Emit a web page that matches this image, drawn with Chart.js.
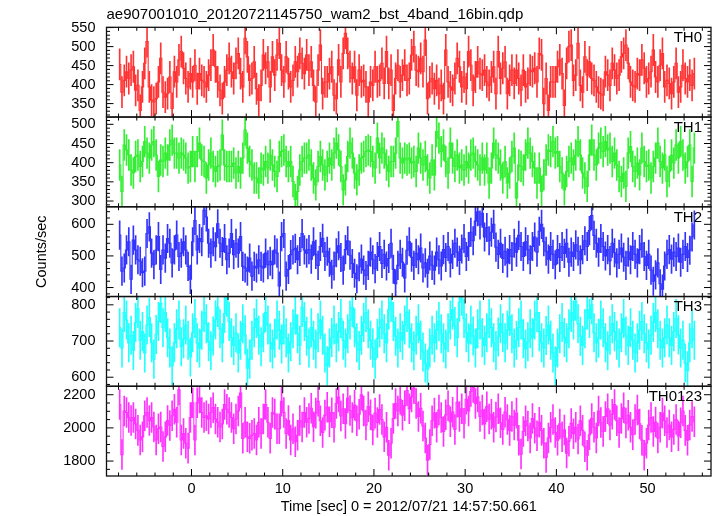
<!DOCTYPE html>
<html><head><meta charset="utf-8">
<script src="https://cdn.jsdelivr.net/npm/chart.js@4.4.1/dist/chart.umd.min.js"></script>
<style>html,body{margin:0;padding:0;background:#fff;}#wrap{width:717px;height:516px;}</style>
</head><body><div id="wrap"><canvas id="c" width="717" height="516"></canvas></div>
<script>
const chartTitle = "ae907001010_20120721145750_wam2_bst_4band_16bin.qdp";
const xTitle = "Time [sec] 0 = 2012/07/21 14:57:50.661";
const yTitle = "Counts/sec";
const bandNames = ["TH0", "TH1", "TH2", "TH3", "TH0123"];
const binStart = -7.875;   // centre of first 0.25 s bin
const binWidth = 0.25;

const th0 = [453,380,411,434,416,438,447,385,398,332,394,456,513,394,359,354,363,407,469,380,
367,376,420,337,434,407,465,487,443,416,394,429,407,451,389,429,411,407,394,425,
451,491,447,407,385,363,407,438,469,434,416,456,482,429,394,522,473,411,416,460,
389,359,398,478,443,460,394,473,425,478,509,438,407,473,429,394,411,460,434,482,
456,429,478,438,460,398,354,438,504,376,407,407,429,447,372,363,465,407,482,535,
482,447,416,447,372,438,407,411,394,354,407,398,447,407,411,456,403,487,403,438,
332,416,451,407,425,451,411,
416,478,500,438,434,469,434,517,363,407,416,389,411,376,398,363,491,407,394,385,
416,469,447,394,420,389,487,451,385,420,460,429,425,438,407,398,420,447,376,487,
416,443,460,376,411,438,403,438,416,385,438,394,403,438,434,443,407,482,478,350,
416,332,407,407,407,447,465,429,345,456,500,504,411,425,509,398,380,473,425,460,
416,411,394,380,376,372,434,425,398,456,438,416,425,473,482,504,456,407,398,394,
429,425,465,443,407,416,434,491,420,407,451,482,394,411,403,376,407,456,380,394,
451,416,407,425,398,429];

const th1 = [394,325,446,433,420,381,373,416,420,390,403,455,425,412,446,455,420,364,407,403,
425,407,446,459,425,425,412,425,420,412,386,390,429,390,429,451,407,403,360,394,
425,390,377,390,394,472,394,390,390,390,399,373,390,373,412,485,438,403,394,360,
360,347,386,381,403,386,420,394,377,364,416,429,433,403,390,403,351,304,325,381,
403,412,412,420,394,360,342,390,416,394,368,390,412,394,425,451,433,390,329,355,
416,451,425,373,355,381,412,416,429,433,429,403,386,464,412,438,425,394,377,403,
403,425,507,412,399,412,407,
412,399,403,377,438,412,394,416,381,360,407,368,481,464,429,446,403,373,451,412,
390,420,386,394,381,403,386,420,425,403,394,381,412,381,412,347,386,451,420,412,
394,360,403,347,373,416,438,308,394,390,381,420,451,425,403,386,347,386,325,368,
407,433,429,455,425,429,390,373,329,377,403,412,394,420,455,420,373,360,338,420,
459,420,394,438,451,429,455,433,438,403,425,394,364,351,373,338,425,442,390,377,
399,368,438,403,390,394,360,390,412,451,403,386,420,351,377,420,399,446,412,455,
420,386,403,446,351,438];

const th2 = [566,452,462,519,545,426,550,519,488,483,447,452,571,592,509,472,519,561,457,519,
493,555,540,478,519,566,498,509,545,519,467,426,545,612,519,555,545,644,623,540,
509,545,529,602,540,514,555,488,509,571,504,540,509,561,467,462,452,493,436,467,
462,488,467,462,509,472,483,472,519,509,405,561,571,436,457,504,519,524,488,514,
571,519,509,
520,490,545,505,470,530,556,498,515,480,442,468,510,532,495,455,520,548,502,476,
445,428,466,490,455,438,470,512,488,460,498,530,476,505,468,492,540,458,412,470,
505,480,430,518,545,496,470,508,488,525,462,478,445,500,470,455,512,488,468,520,
495,530,478,505,540,512,486,522,555,498,530,575,548,610,640,598,635,560,590,548,
575,600,528,505,540,492,515,478,520,498,540,512,565,530,498,545,520,488,530,560,
512,578,600,545,515,490,530,505,472,520,495,530,508,540,480,512,498,535,515,488,
520,548,530,580,628,565,540,512,555,530,500,520,485,540,510,478,505,525,496,470,
512,488,530,505,478,520,540,498,470,505,455,420,440,478,412,395,468,505,520,490,
512,498,525,480,505,530,495,518,560,598];

const th3 = [737,681,779,758,695,716,674,751,790,702,726,667,744,765,695,650,718,754,804,737,
779,709,681,632,695,734,758,684,706,744,702,656,723,762,695,681,730,779,748,698,
673,714,758,793,734,695,776,821,754,709,688,723,667,702,748,717,625,650,702,737,
762,716,684,723,779,744,695,678,708,758,730,692,744,709,667,698,734,772,720,688,
793,754,713,681,737,702,678,723,758,716,667,632,681,710,744,695,726,762,702,681,
720,758,793,737,695,674,715,751,779,734,702,681,650,707,737,758,720,695,786,807,
754,713,681,723,702,744,779,734,695,673,716,748,702,670,639,622,681,716,695,730,
754,720,695,678,723,758,786,740,709,807,824,762,723,695,744,714,681,734,758,709,
688,723,762,737,695,674,711,748,723,695,730,768,720,681,702,737,758,706,678,698,
734,709,758,779,726,695,681,715,744,702,667,632,681,720,751,710,695,734,779,758,
810,748,713,688,734,786,762,800,723,695,708,758,737,695,673,716,748,726,702,681,
723,762,714,688,737,702,667,695,730,754,720,695,678,716,751,779,734,702,681,709,
744,709,688,726,762,717,681,702,639,618,695,734,702];

const th0123 = [2141,1839,2102,2093,2063,2044,2063,2024,1985,1927,1946,2073,2093,2044,2063,2005,1927,1995,2005,1888,
1946,2044,2015,2073,2112,2034,2229,1927,1966,1907,1878,2063,2151,1927,2151,2180,2093,2063,2073,2054,
2093,2122,2054,2034,2005,2024,2141,2112,2093,2063,1995,2054,2102,2210,1937,2034,1946,1937,1956,1966,
1927,2034,1966,2054,2141,2034,1937,2093,2083,1995,1995,2161,2093,1966,2044,1927,1995,1917,1956,2044,
2005,2093,2034,
2056,2118,2007,2089,2160,2043,1972,2077,2124,2037,2092,2004,2147,2186,2072,2115,2026,2180,2105,2063,
2137,2043,2082,2199,2102,2017,2128,2079,1988,2089,2033,2111,2051,1946,2004,1835,1907,2056,2147,2102,
2173,2076,2134,2225,2115,2186,2238,2147,2069,2118,2011,1939,1806,1900,2043,2089,2004,2108,2063,1978,
2079,2134,2037,2095,1991,2154,2069,2115,2028,2173,2102,2219,2244,2147,2186,2069,2108,2024,2128,2053,
2082,2004,2066,2115,2031,1991,2095,2050,1985,2069,2017,2089,1926,1842,1978,2043,2011,1939,2056,1998,
1952,2034,1985,1907,1822,1939,2004,2050,1972,1926,2024,1946,1988,1848,1920,2027,1965,2004,1933,2043,
1985,1887,1835,1959,2056,2004,1939,2102,2032,1978,2069,2115,2017,2082,2141,2043,1972,2056,2121,2029,
2076,2004,1959,2050,2108,2024,1926,1835,1907,2017,2063,1978,2035,1939,2004,2089,2043,1972,2017,1946,
1991,2050,1952,2031,2102,1985,1926,2017,2069,2037];

const bandValues = [th0, th1, th2, th3, th0123];
const errHalf = [41, 40, 45, 53, 90];      // typical 1-sigma error

const yMin = [314.6, 285, 371.6, 575, 1710];
const yMax = [550.8, 519, 655.5, 823, 2251];
const yMajor = [50, 50, 100, 100, 200];
const yMinor = [10, 10, 20, 20, 50];
const xMin = -9.32, xMax = 56.95;
const xMajor = 10, xMinor = 2;

const lineColors = ['#ff3333', '#33ee33', '#3333ff', '#22ffff', '#ff33ff'];

const FONT = '"Liberation Sans", Arial, Helvetica, sans-serif';
const PLOT_LEFT = 106.5;

const datasets = [];
bandValues.forEach((vals, i) => {
  datasets.push({
    type: 'bar', label: bandNames[i] + ' error', yAxisID: 'y' + i, xAxisID: 'x',
    data: vals.map((v, k) => ({x: binStart + k * binWidth, y: [v - errHalf[i], v + errHalf[i]]})),
    backgroundColor: lineColors[i], borderWidth: 0, barThickness: 1, grouped: false, order: 2
  });
  datasets.push({
    type: 'line', label: bandNames[i], yAxisID: 'y' + i, xAxisID: 'x',
    data: vals.map((v, k) => ({x: binStart + k * binWidth, y: v})),
    borderColor: lineColors[i], borderWidth: 1.1, pointRadius: 0, stepped: 'middle',
    fill: false, tension: 0, order: 1
  });
});

const plainNum = v => String(v);

const scales = {
  x: {
    type: 'linear', position: 'bottom', min: xMin, max: xMax, offset: false,
    grid: {display: false, drawTicks: false}, border: {display: false},
    ticks: {stepSize: xMajor, includeBounds: false, autoSkip: false, padding: 4, color: '#000', maxRotation: 0,
            font: {family: FONT, size: 14.5}, callback: plainNum},
    title: {display: true, text: xTitle, color: '#000', font: {family: FONT, size: 14.5}, padding: {top: 0, bottom: 0}},
    afterFit: s => { s.height = 40; }
  },
  xt: {
    type: 'linear', position: 'top', min: xMin, max: xMax,
    grid: {display: false, drawTicks: false}, border: {display: false},
    ticks: {display: false},
    title: {display: true, text: chartTitle, align: 'start', color: '#000', font: {family: FONT, size: 15}, padding: {top: 6, bottom: 0}},
    afterFit: s => { s.height = 27.3; }
  }
};
bandNames.forEach((n, i) => {
  scales['y' + i] = {
    type: 'linear', position: 'left', stack: 'panels', stackWeight: 1, weight: 10 - i,
    min: yMin[i], max: yMax[i],
    grid: {display: false, drawTicks: false}, border: {display: false},
    ticks: {stepSize: yMajor[i], includeBounds: false, autoSkip: false, padding: 11, color: '#000',
            font: {family: FONT, size: 14.5}, callback: plainNum},
    title: i === 2 ? {display: true, text: yTitle, color: '#000', font: {family: FONT, size: 14.5}, padding: {top: 33, bottom: 0}}
                   : {display: false},
    afterFit: s => { s.width = PLOT_LEFT; }
  };
});

const framePlugin = {
  id: 'qdpFrames',
  afterDatasetsDraw(chart) {
    const ctx = chart.ctx;
    const xs = chart.scales.x;
    const L = xs.left, R = xs.right;
    const seg = (x1, y1, x2, y2) => { ctx.beginPath(); ctx.moveTo(x1, y1); ctx.lineTo(x2, y2); ctx.stroke(); };
    ctx.save();
    bandNames.forEach((name, i) => {
      const ys = chart.scales['y' + i];
      const T = ys.top, B = ys.bottom;
      ctx.strokeStyle = '#000';
      ctx.lineWidth = 1;
      const y0 = Math.ceil(ys.min / yMinor[i] - 1e-9) * yMinor[i];
      for (let v = y0; v <= ys.max + 1e-9; v += yMinor[i]) {
        const y = ys.getPixelForValue(v);
        const r = v / yMajor[i];
        const len = Math.abs(r - Math.round(r)) < 1e-6 ? 7 : 3.5;
        seg(L, y, L + len, y);
        seg(R, y, R - len, y);
      }
      const x0 = Math.ceil(xs.min / xMinor - 1e-9) * xMinor;
      for (let v = x0; v <= xs.max + 1e-9; v += xMinor) {
        const x = xs.getPixelForValue(v);
        const r = v / xMajor;
        const len = Math.abs(r - Math.round(r)) < 1e-6 ? 7 : 3.5;
        seg(x, T, x, T + len);
        seg(x, B, x, B - len);
      }
      ctx.lineWidth = 1.3;
      ctx.strokeStyle = '#111';
      ctx.strokeRect(L, T, R - L, B - T);
      ctx.fillStyle = '#000';
      ctx.font = '15px ' + FONT;
      ctx.textAlign = 'right';
      ctx.textBaseline = 'middle';
      ctx.fillText(name, R - 9, T + 10.8);
    });
    ctx.restore();
  }
};

new Chart(document.getElementById('c'), {
  type: 'line',
  data: {datasets},
  options: {
    responsive: false, animation: false, devicePixelRatio: 1,
    layout: {padding: {left: 0, right: 6, top: 0, bottom: 0}},
    plugins: {legend: {display: false}, tooltip: {enabled: false}, title: {display: false}},
    scales
  },
  plugins: [framePlugin]
});
</script></body></html>
